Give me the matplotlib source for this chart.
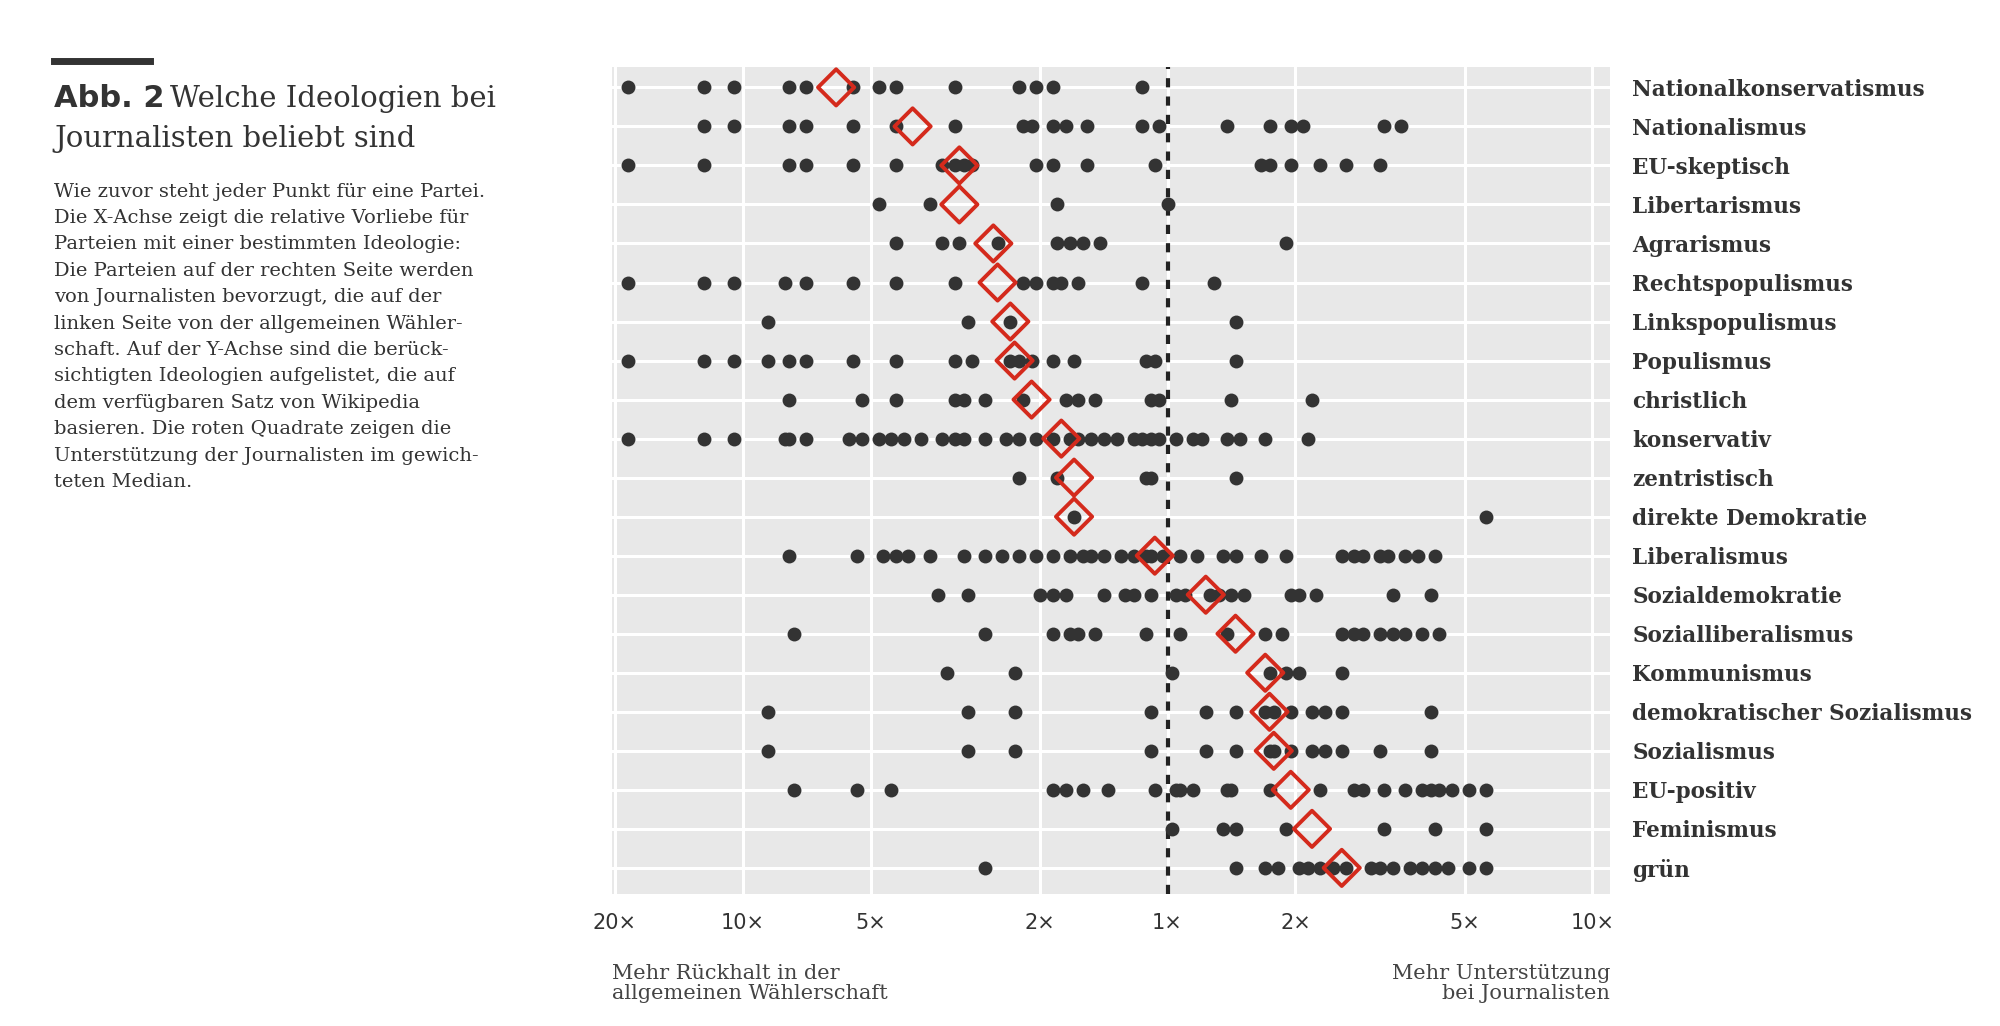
import matplotlib
matplotlib.use("Agg")
import matplotlib.pyplot as plt
import numpy as np

# log10 of the relative preference (journalists vs. electorate), one list per ideology
ideologies = ["Nationalkonservatismus", "Nationalismus", "EU-skeptisch", "Libertarismus",
              "Agrarismus", "Rechtspopulismus", "Linkspopulismus", "Populismus", "christlich",
              "konservativ", "zentristisch", "direkte Demokratie", "Liberalismus",
              "Sozialdemokratie", "Sozialliberalismus", "Kommunismus",
              "demokratischer Sozialismus", "Sozialismus", "EU-positiv", "Feminismus", "grün"]

parties_log = [
    [-1.27,-1.09,-1.02,-0.89,-0.85,-0.74,-0.68,-0.64,-0.50,-0.35,-0.31,-0.27,-0.06],
    [-1.09,-1.02,-0.89,-0.85,-0.74,-0.64,-0.50,-0.34,-0.32,-0.27,-0.24,-0.19,-0.06,-0.02,0.14,0.24,0.29,0.32,0.51,0.55],
    [-1.27,-1.09,-0.89,-0.85,-0.74,-0.64,-0.53,-0.50,-0.48,-0.46,-0.31,-0.27,-0.19,-0.03,0.22,0.24,0.29,0.36,0.42,0.50],
    [-0.68,-0.56,-0.26,0.00],
    [-0.64,-0.53,-0.49,-0.40,-0.26,-0.23,-0.20,-0.16,0.28],
    [-1.27,-1.09,-1.02,-0.90,-0.85,-0.74,-0.64,-0.50,-0.34,-0.31,-0.27,-0.25,-0.21,-0.06,0.11],
    [-0.94,-0.47,-0.37,0.16],
    [-1.27,-1.09,-1.02,-0.94,-0.89,-0.85,-0.74,-0.64,-0.50,-0.46,-0.37,-0.35,-0.32,-0.27,-0.22,-0.05,-0.03,0.16],
    [-0.89,-0.72,-0.64,-0.50,-0.48,-0.43,-0.34,-0.24,-0.21,-0.17,-0.04,-0.02,0.15,0.34],
    [-1.27,-1.09,-1.02,-0.90,-0.89,-0.85,-0.75,-0.72,-0.68,-0.65,-0.62,-0.58,-0.53,-0.50,-0.48,-0.43,-0.38,-0.35,-0.31,-0.27,
     -0.23,-0.21,-0.18,-0.15,-0.12,-0.08,-0.06,-0.04,-0.02,0.02,0.06,0.08,0.14,0.17,0.23,0.33],
    [-0.35,-0.26,-0.05,-0.04,0.16],
    [-0.22,0.75],
    [-0.89,-0.73,-0.67,-0.64,-0.61,-0.56,-0.48,-0.43,-0.39,-0.35,-0.31,-0.27,-0.23,-0.20,-0.18,-0.15,-0.11,-0.08,-0.05,-0.04,
     -0.01,0.03,0.07,0.13,0.16,0.22,0.28,0.41,0.44,0.46,0.50,0.52,0.56,0.59,0.63],
    [-0.54,-0.47,-0.30,-0.27,-0.24,-0.15,-0.10,-0.08,-0.04,0.02,0.04,0.10,0.12,0.15,0.18,0.29,0.31,0.35,0.53,0.62],
    [-0.88,-0.43,-0.27,-0.23,-0.21,-0.17,-0.05,0.03,0.14,0.23,0.27,0.41,0.44,0.46,0.50,0.53,0.56,0.60,0.64],
    [-0.52,-0.36,0.01,0.24,0.28,0.31,0.41],
    [-0.94,-0.47,-0.36,-0.04,0.09,0.16,0.23,0.25,0.29,0.34,0.37,0.41,0.62],
    [-0.94,-0.47,-0.36,-0.04,0.09,0.16,0.24,0.25,0.29,0.34,0.37,0.41,0.50,0.62],
    [-0.88,-0.73,-0.65,-0.27,-0.24,-0.20,-0.14,-0.03,0.02,0.03,0.06,0.14,0.15,0.24,0.36,0.44,0.46,0.51,0.56,0.60,0.62,0.64,0.67,0.71,0.75],
    [0.01,0.13,0.16,0.28,0.51,0.63,0.75],
    [-0.43,0.16,0.23,0.26,0.31,0.33,0.36,0.39,0.42,0.48,0.50,0.53,0.57,0.60,0.63,0.66,0.71,0.75],
]
median_log = [-0.78,-0.60,-0.49,-0.49,-0.41,-0.40,-0.37,-0.36,-0.32,-0.25,-0.22,-0.22,-0.03,
              0.09,0.16,0.23,0.24,0.25,0.29,0.34,0.41]

tick_vals = [1/20, 1/10, 1/5, 1/2, 1, 2, 5, 10]
tick_labels = ["20×", "10×", "5×", "2×", "1×", "2×", "5×", "10×"]

SERIF = "DejaVu Serif"
fig = plt.figure(figsize=(20, 10.26), dpi=100)
ax = fig.add_axes([0.306, 0.129, 0.499, 0.806])
ax.set_facecolor("#e8e8e8")
ax.set_xscale("log")
ax.set_xlim(1/20.3, 11.0)
ax.set_ylim(len(ideologies) - 1 + 0.66, -0.53)

for i in range(len(ideologies)):
    ax.axhline(i, color="white", lw=2.2, zorder=1)
for t in tick_vals:
    ax.axvline(t, color="white", lw=2.2, zorder=1)
ax.axvline(1, color="#222222", lw=3, ls=(0, (2.2, 2.2)), zorder=2)

for i, vals in enumerate(parties_log):
    x = 10 ** np.array(vals)
    ax.scatter(x, np.full(len(x), i), s=100, color="#333333", zorder=3, linewidths=0)
ax.scatter(10 ** np.array(median_log), np.arange(len(median_log)), s=340, marker="D",
           facecolors="none", edgecolors="#d42a1c", linewidths=2.8, zorder=4)

for s in ax.spines.values():
    s.set_visible(False)
ax.set_xticks(tick_vals)
ax.set_xticklabels(tick_labels, fontsize=15, color="#333333")
ax.xaxis.set_minor_locator(matplotlib.ticker.NullLocator())
ax.tick_params(axis="x", length=0, pad=14)
ax.set_yticks(range(len(ideologies)))
ax.set_yticklabels(ideologies, family=SERIF, fontsize=15.5, fontweight="bold", color="#333333")
ax.yaxis.tick_right()
ax.tick_params(axis="y", length=0, pad=16)

ax.text(0, -0.085, "Mehr Rückhalt in der\nallgemeinen Wählerschaft", transform=ax.transAxes,
        ha="left", va="top", family=SERIF, fontsize=15, color="#444444", linespacing=1.1)
ax.text(1, -0.085, "Mehr Unterstützung\nbei Journalisten", transform=ax.transAxes,
        ha="right", va="top", family=SERIF, fontsize=15, color="#444444", linespacing=1.1)

# left panel
fig.add_artist(matplotlib.lines.Line2D([0.027, 0.075], [0.941, 0.941], color="#333333", lw=5))
fig.text(0.027, 0.896, "Abb. 2", fontsize=22, fontweight="bold", color="#333333", va="baseline")
fig.text(0.085, 0.896, "Welche Ideologien bei", family=SERIF, fontsize=21, color="#333333", va="baseline")
fig.text(0.027, 0.857, "Journalisten beliebt sind", family=SERIF, fontsize=21, color="#333333", va="baseline")
body = ("Wie zuvor steht jeder Punkt für eine Partei.\n"
        "Die X-Achse zeigt die relative Vorliebe für\n"
        "Parteien mit einer bestimmten Ideologie:\n"
        "Die Parteien auf der rechten Seite werden\n"
        "von Journalisten bevorzugt, die auf der\n"
        "linken Seite von der allgemeinen Wähler-\n"
        "schaft. Auf der Y-Achse sind die berück-\n"
        "sichtigten Ideologien aufgelistet, die auf\n"
        "dem verfügbaren Satz von Wikipedia\n"
        "basieren. Die roten Quadrate zeigen die\n"
        "Unterstützung der Journalisten im gewich-\n"
        "teten Median.")
fig.text(0.027, 0.822, body, family=SERIF, fontsize=14, color="#333333", va="top", linespacing=1.6)

fig.savefig("out.png", dpi=100, facecolor="white")
